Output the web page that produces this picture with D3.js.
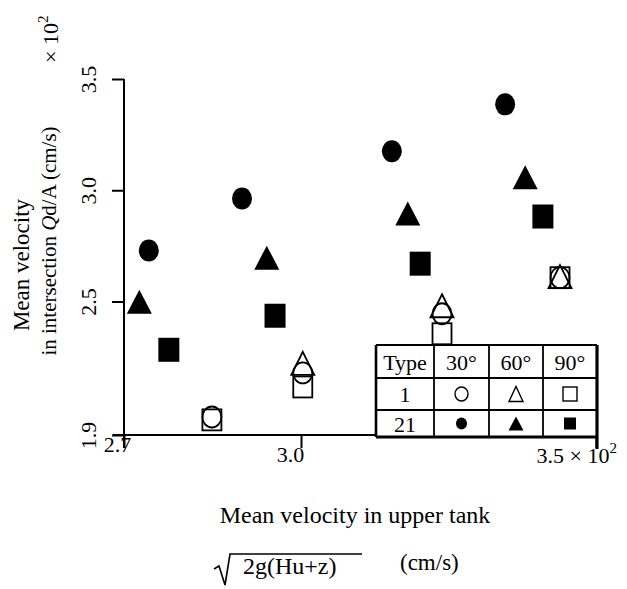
<!DOCTYPE html>
<html>
<head>
<meta charset="utf-8">
<style>
  body { margin: 0; background: #fff; }
  svg text { font-family: "Liberation Serif", "Times New Roman", serif; fill: #000; }
</style>
</head>
<body>
<svg id="chart"></svg>
<script src="https://cdn.jsdelivr.net/npm/d3@7"></script>
<script>
// ---- data (units x10^2 cm/s) ----
var xTicks = [2.7, 3.0, 3.5];
var yTicks = [1.9, 2.5, 3.0, 3.5];
var angles = ["30°", "60°", "90°"];
var types = ["1", "21"];

// type 1 (open symbols)
var t1CircleX = [2.849, 3.003, 3.239, 3.439];
var t1CircleY = [1.981, 2.179, 2.445, 2.607];
var t1TriX = [3.003, 3.239, 3.439];
var t1TriY = [2.222, 2.481, 2.612];
var t1SquareX = [2.849, 3.003, 3.239, 3.439];
var t1SquareY = [1.968, 2.116, 2.355, 2.607];

// type 21 (filled symbols)
var t21CircleX = [2.742, 2.900, 3.154, 3.346];
var t21CircleY = [2.729, 2.963, 3.175, 3.386];
var t21TriX = [2.726, 2.942, 3.181, 3.380];
var t21TriY = [2.499, 2.697, 2.896, 3.058];
var t21SquareX = [2.776, 2.956, 3.202, 3.410];
var t21SquareY = [2.283, 2.436, 2.670, 2.882];

var W = 627, H = 589;
var svg = d3.select("#chart").attr("width", W).attr("height", H);

var x = d3.scaleLinear().domain([2.7, 3.5]).range([124, 596]);
var y = d3.scaleLinear().domain([1.9, 3.5]).range([435, 79]);

// axis lines
svg.append("line").attr("x1", 113).attr("x2", x(3.5)).attr("y1", y(1.9)).attr("y2", y(1.9))
   .attr("stroke", "#000").attr("stroke-width", 2);
svg.append("line").attr("x1", x(2.7)).attr("x2", x(2.7)).attr("y1", y(3.5)).attr("y2", 448)
   .attr("stroke", "#000").attr("stroke-width", 2);

// x axis ticks + labels
var xAxis = svg.append("g").attr("transform", "translate(0," + y(1.9) + ")")
  .call(d3.axisBottom(x).tickValues(xTicks).tickSize(13).tickSizeOuter(0)
        .tickFormat(function(d){ return d.toFixed(1); }));
xAxis.select(".domain").remove();
xAxis.selectAll(".tick line").attr("stroke", "#000").attr("stroke-width", 2);
var xLabOff = [{dx: -7, y: 17, anchor: "middle"}, {dx: -11, y: 27, anchor: "middle"}, {dx: -60, y: 28, anchor: "start"}];
xAxis.selectAll(".tick text")
  .attr("font-size", 22).attr("fill", "#000")
  .attr("dy", 0)
  .attr("x", function(d, i){ return xLabOff[i].dx; })
  .attr("y", function(d, i){ return xLabOff[i].y; })
  .attr("text-anchor", function(d, i){ return xLabOff[i].anchor; })
  .each(function(d, i){
    if (i === xTicks.length - 1) {
      var t = d3.select(this);
      t.text(d.toFixed(1) + " \u00d7 10");
      t.append("tspan").attr("font-size", 15).attr("dy", -10).text("2");
    }
  });

// y axis ticks + rotated labels
var yAxis = svg.append("g").attr("transform", "translate(" + x(2.7) + ",0)")
  .call(d3.axisLeft(y).tickValues(yTicks).tickSize(12).tickSizeOuter(0)
        .tickFormat(function(d){ return d.toFixed(1); }));
yAxis.select(".domain").remove();
yAxis.selectAll(".tick line").attr("stroke", "#000").attr("stroke-width", 2).attr("x2", -12);
yAxis.selectAll(".tick text")
  .attr("font-size", 22).attr("fill", "#000")
  .attr("transform", "rotate(-90)")
  .attr("text-anchor", "middle")
  .attr("x", 0).attr("y", -28).attr("dy", 0);

// x 10^2 at top of y axis
var mult = svg.append("text").attr("transform", "translate(58,63) rotate(-90)").attr("font-size", 22);
mult.append("tspan").text("\u00d7 10");
mult.append("tspan").attr("font-size", 15).attr("dy", -10).text("2");

// y title (two lines)
svg.append("text").attr("transform", "translate(29,265) rotate(-90)")
  .attr("text-anchor", "middle").attr("font-size", 23).text("Mean velocity");
var yt2 = svg.append("text").attr("transform", "translate(56,241) rotate(-90)")
  .attr("text-anchor", "middle").attr("font-size", 21);
yt2.append("tspan").text("in intersection ");
yt2.append("tspan").attr("font-style", "italic").text("Q");
yt2.append("tspan").text("d/A (cm/s)");

// x title and formula
svg.append("text").attr("x", 355).attr("y", 523).attr("text-anchor", "middle")
  .attr("font-size", 24).text("Mean velocity in upper tank");
svg.append("path").attr("d", "M214,569 L219,566 L225,585 L230,554 L362,554")
  .attr("fill", "none").attr("stroke", "#000").attr("stroke-width", 1.6);
svg.append("text").attr("x", 243).attr("y", 574).attr("font-size", 24).text("2g(Hu+z)");
svg.append("text").attr("x", 400).attr("y", 570).attr("font-size", 23).text("(cm/s)");

// symbol helper
function sym(g, kind, filled, cx, cy, w, h, sw) {
  var el;
  if (kind === "circle") {
    el = g.append("ellipse").attr("cx", cx).attr("cy", cy).attr("rx", w / 2).attr("ry", h / 2);
  } else if (kind === "tri") {
    el = g.append("path").attr("d", "M" + cx + "," + (cy - h / 2) + " L" + (cx + w / 2) + "," + (cy + h / 2) +
                           " L" + (cx - w / 2) + "," + (cy + h / 2) + " Z");
  } else {
    el = g.append("rect").attr("x", cx - w / 2).attr("y", cy - h / 2).attr("width", w).attr("height", h);
  }
  if (filled) el.attr("fill", "#000").attr("stroke", "none");
  else el.attr("fill", "none").attr("stroke", "#000").attr("stroke-width", sw || 1.8);
  return el;
}

function series(xs, ys, kind, filled, w, h) {
  var g = svg.append("g");
  xs.forEach(function(v, i){ sym(g, kind, filled, x(v), y(ys[i]), w, h); });
}

series(t21CircleX, t21CircleY, "circle", true, 20, 22);
series(t21TriX, t21TriY, "tri", true, 25, 24);
series(t21SquareX, t21SquareY, "square", true, 21, 24);
series(t1SquareX, t1SquareY, "square", false, 19, 21);
series(t1CircleX, t1CircleY, "circle", false, 19, 21);
series(t1TriX, t1TriY, "tri", false, 23, 23);

// legend table
var colX = [376, 434, 489, 543, 597];
var rowY = [345, 378, 410, 437];
var tbl = svg.append("g");
tbl.append("rect").attr("x", colX[0]).attr("y", rowY[0])
  .attr("width", colX[4] - colX[0]).attr("height", rowY[3] - rowY[0]).attr("fill", "#fff");
colX.slice(1, 4).forEach(function(cx){
  tbl.append("line").attr("x1", cx).attr("x2", cx).attr("y1", rowY[0]).attr("y2", rowY[3])
    .attr("stroke", "#000").attr("stroke-width", 1.8);
});
rowY.slice(1, 3).forEach(function(ry){
  tbl.append("line").attr("x1", colX[0]).attr("x2", colX[4]).attr("y1", ry).attr("y2", ry)
    .attr("stroke", "#000").attr("stroke-width", 1.8);
});
tbl.append("line").attr("x1", colX[0]).attr("x2", colX[4]).attr("y1", rowY[0]).attr("y2", rowY[0])
  .attr("stroke", "#000").attr("stroke-width", 1.8);
tbl.append("line").attr("x1", colX[0]).attr("x2", colX[4]).attr("y1", rowY[3]).attr("y2", rowY[3])
  .attr("stroke", "#000").attr("stroke-width", 3);
tbl.append("line").attr("x1", colX[0]).attr("x2", colX[0]).attr("y1", rowY[0]).attr("y2", rowY[3])
  .attr("stroke", "#000").attr("stroke-width", 2.6);
tbl.append("line").attr("x1", colX[4]).attr("x2", colX[4]).attr("y1", rowY[0]).attr("y2", 449)
  .attr("stroke", "#000").attr("stroke-width", 3.2);

function midX(i){ return (colX[i] + colX[i + 1]) / 2; }
function midY(i){ return (rowY[i] + rowY[i + 1]) / 2; }
tbl.append("text").attr("x", midX(0)).attr("y", midY(0) + 8).attr("text-anchor", "middle")
  .attr("font-size", 22).text("Type");
angles.forEach(function(a, i){
  tbl.append("text").attr("x", midX(i + 1)).attr("y", midY(0) + 8).attr("text-anchor", "middle")
    .attr("font-size", 22).text(a);
});
types.forEach(function(t, r){
  tbl.append("text").attr("x", midX(0)).attr("y", midY(r + 1) + 8).attr("text-anchor", "middle")
    .attr("font-size", 22).text(t);
});
var kinds = ["circle", "tri", "square"];
var legSize = [[[13, 14], [14, 15], [14, 14]], [[11, 12], [15, 14], [12, 12]]];
types.forEach(function(t, r){
  kinds.forEach(function(k, c){
    var s = legSize[r][c];
    sym(tbl, k, r === 1, midX(c + 1), midY(r + 1), s[0], s[1], 1.4);
  });
});
</script>
</body>
</html>
